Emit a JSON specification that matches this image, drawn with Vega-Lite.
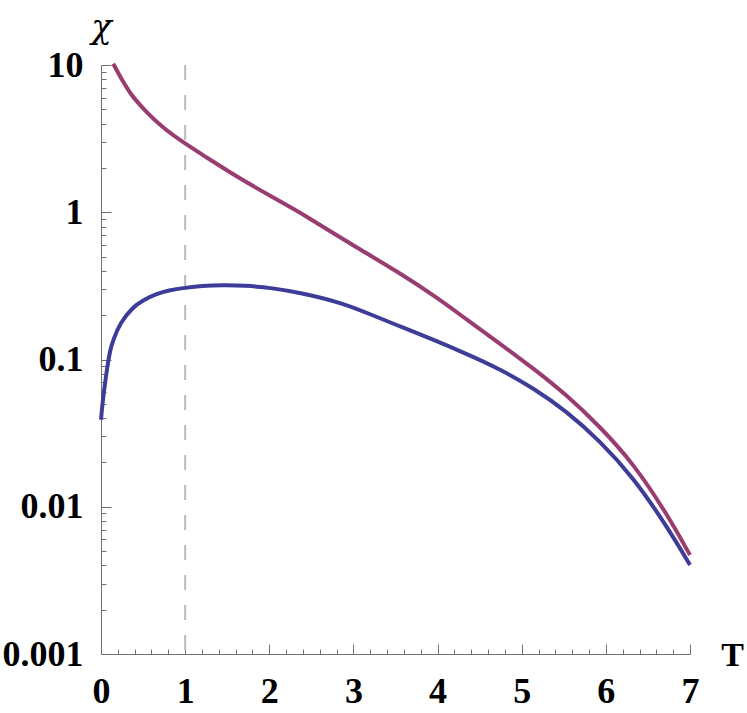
{
  "$schema": "https://vega.github.io/schema/vega-lite/v6.json",
  "width": 589,
  "height": 589,
  "autosize": "none",
  "padding": {"left": 101, "top": 65, "right": 57, "bottom": 59},
  "background": "white",
  "config": {"view": {"stroke": null}},
  "layer": [
    {
      "data": {"values": [{"T": 1}]},
      "mark": {"type": "rule", "color": "#bbbbbb", "strokeWidth": 2, "strokeDash": [15, 15]},
      "encoding": {
        "x": {"field": "T", "type": "quantitative", "scale": {"domain": [0, 7], "nice": false, "zero": false}}
      }
    },
    {
      "data": {"values": [
        {"T": 0.0, "chi": 0.039, "s": "a"},
        {"T": 0.02, "chi": 0.052, "s": "a"},
        {"T": 0.048, "chi": 0.069, "s": "a"},
        {"T": 0.07, "chi": 0.085, "s": "a"},
        {"T": 0.107, "chi": 0.116, "s": "a"},
        {"T": 0.15, "chi": 0.138, "s": "a"},
        {"T": 0.226, "chi": 0.177, "s": "a"},
        {"T": 0.38, "chi": 0.2275, "s": "a"},
        {"T": 0.5, "chi": 0.253, "s": "a"},
        {"T": 0.666, "chi": 0.280, "s": "a"},
        {"T": 0.8, "chi": 0.295, "s": "a"},
        {"T": 1.0, "chi": 0.307, "s": "a"},
        {"T": 1.2, "chi": 0.316, "s": "a"},
        {"T": 1.45, "chi": 0.320, "s": "a"},
        {"T": 1.7, "chi": 0.318, "s": "a"},
        {"T": 2.04, "chi": 0.306, "s": "a"},
        {"T": 2.365, "chi": 0.284, "s": "a"},
        {"T": 2.84, "chi": 0.245, "s": "a"},
        {"T": 3.2, "chi": 0.203, "s": "a"},
        {"T": 3.55, "chi": 0.168, "s": "a"},
        {"T": 3.9, "chi": 0.140, "s": "a"},
        {"T": 4.35, "chi": 0.109, "s": "a"},
        {"T": 4.742, "chi": 0.086, "s": "a"},
        {"T": 5.137, "chi": 0.064, "s": "a"},
        {"T": 5.534, "chi": 0.0445, "s": "a"},
        {"T": 5.93, "chi": 0.028, "s": "a"},
        {"T": 6.327, "chi": 0.0158, "s": "a"},
        {"T": 6.723, "chi": 0.0074, "s": "a"},
        {"T": 7.0, "chi": 0.00402, "s": "a"},
        {"T": 0.146, "chi": 10.2, "s": "b"},
        {"T": 0.25, "chi": 7.9, "s": "b"},
        {"T": 0.325, "chi": 6.76, "s": "b"},
        {"T": 0.38, "chi": 6.06, "s": "b"},
        {"T": 0.523, "chi": 4.9, "s": "b"},
        {"T": 0.72, "chi": 3.8, "s": "b"},
        {"T": 1.0, "chi": 2.92, "s": "b"},
        {"T": 1.25, "chi": 2.37, "s": "b"},
        {"T": 1.51, "chi": 1.90, "s": "b"},
        {"T": 1.91, "chi": 1.39, "s": "b"},
        {"T": 2.365, "chi": 1.0, "s": "b"},
        {"T": 2.52, "chi": 0.875, "s": "b"},
        {"T": 3.0, "chi": 0.594, "s": "b"},
        {"T": 3.55, "chi": 0.387, "s": "b"},
        {"T": 4.0, "chi": 0.262, "s": "b"},
        {"T": 4.35, "chi": 0.186, "s": "b"},
        {"T": 4.742, "chi": 0.128, "s": "b"},
        {"T": 5.137, "chi": 0.0871, "s": "b"},
        {"T": 5.534, "chi": 0.0574, "s": "b"},
        {"T": 5.93, "chi": 0.035, "s": "b"},
        {"T": 6.327, "chi": 0.0197, "s": "b"},
        {"T": 6.723, "chi": 0.009, "s": "b"},
        {"T": 7.0, "chi": 0.0047, "s": "b"}
      ]},
      "mark": {"type": "line", "strokeWidth": 4, "interpolate": "basis"},
      "encoding": {
        "x": {
          "field": "T", "type": "quantitative",
          "scale": {"domain": [0, 7], "nice": false, "zero": false},
          "axis": {
            "values": [0, 0.2, 0.4, 0.6, 0.8, 1, 1.2, 1.4, 1.6, 1.8, 2, 2.2, 2.4, 2.6, 2.8, 3, 3.2, 3.4, 3.6, 3.8, 4, 4.2, 4.4, 4.6, 4.8, 5, 5.2, 5.4, 5.6, 5.8, 6, 6.2, 6.4, 6.6, 6.8, 7],
            "tickCount": 200,
            "labelExpr": "datum.value == round(datum.value) ? '' + datum.value : ''",
            "tickSize": {"condition": {"test": "datum.value == round(datum.value)", "value": -10}, "value": -5},
            "labelPadding": 30,
            "labelFont": "Liberation Serif", "labelFontWeight": "bold", "labelFontSize": 36, "labelColor": "black",
            "labelFlush": false, "labelOverlap": false,
            "domainColor": "#707070", "tickColor": "#707070", "tickWidth": 1, "grid": false,
            "title": "T", "titleFont": "Liberation Serif", "titleFontWeight": "bold", "titleFontSize": 34,
            "titleColor": "black", "titleX": 631, "titleY": 1, "titleAlign": "center", "titleBaseline": "middle", "titleAngle": 0
          }
        },
        "y": {
          "field": "chi", "type": "quantitative",
          "scale": {"type": "log", "domain": [0.001, 10], "nice": false},
          "axis": {
            "values": [0.001, 0.002, 0.003, 0.004, 0.005, 0.006, 0.007, 0.008, 0.009, 0.01, 0.02, 0.03, 0.04, 0.05, 0.06, 0.07, 0.08, 0.09, 0.1, 0.2, 0.3, 0.4, 0.5, 0.6, 0.7, 0.8, 0.9, 1, 2, 3, 4, 5, 6, 7, 8, 9, 10],
            "tickCount": 200,
            "labelExpr": "datum.value == 10 ? '10' : datum.value == 1 ? '1' : datum.value == 0.1 ? '0.1' : datum.value == 0.01 ? '0.01' : datum.value == 0.001 ? '0.001' : ''",
            "tickSize": {"condition": {"test": "datum.value == 10 || datum.value == 1 || datum.value == 0.1 || datum.value == 0.01 || datum.value == 0.001", "value": -10}, "value": -5},
            "labelPadding": 28,
            "labelFont": "Liberation Serif", "labelFontWeight": "bold", "labelFontSize": 36, "labelColor": "black",
            "labelFlush": false, "labelOverlap": false,
            "domainColor": "#707070", "tickColor": "#707070", "tickWidth": 1, "grid": false,
            "title": "χ", "titleFont": "DejaVu Serif", "titleFontStyle": "italic", "titleFontWeight": "normal", "titleFontSize": 34,
            "titleColor": "black", "titleX": 0, "titleY": -28, "titleAlign": "center", "titleBaseline": "alphabetic", "titleAngle": 0
          }
        },
        "color": {
          "field": "s", "type": "nominal", "legend": null,
          "scale": {"domain": ["a", "b"], "range": ["#3D3D99", "#993D71"]}
        }
      }
    }
  ]
}
